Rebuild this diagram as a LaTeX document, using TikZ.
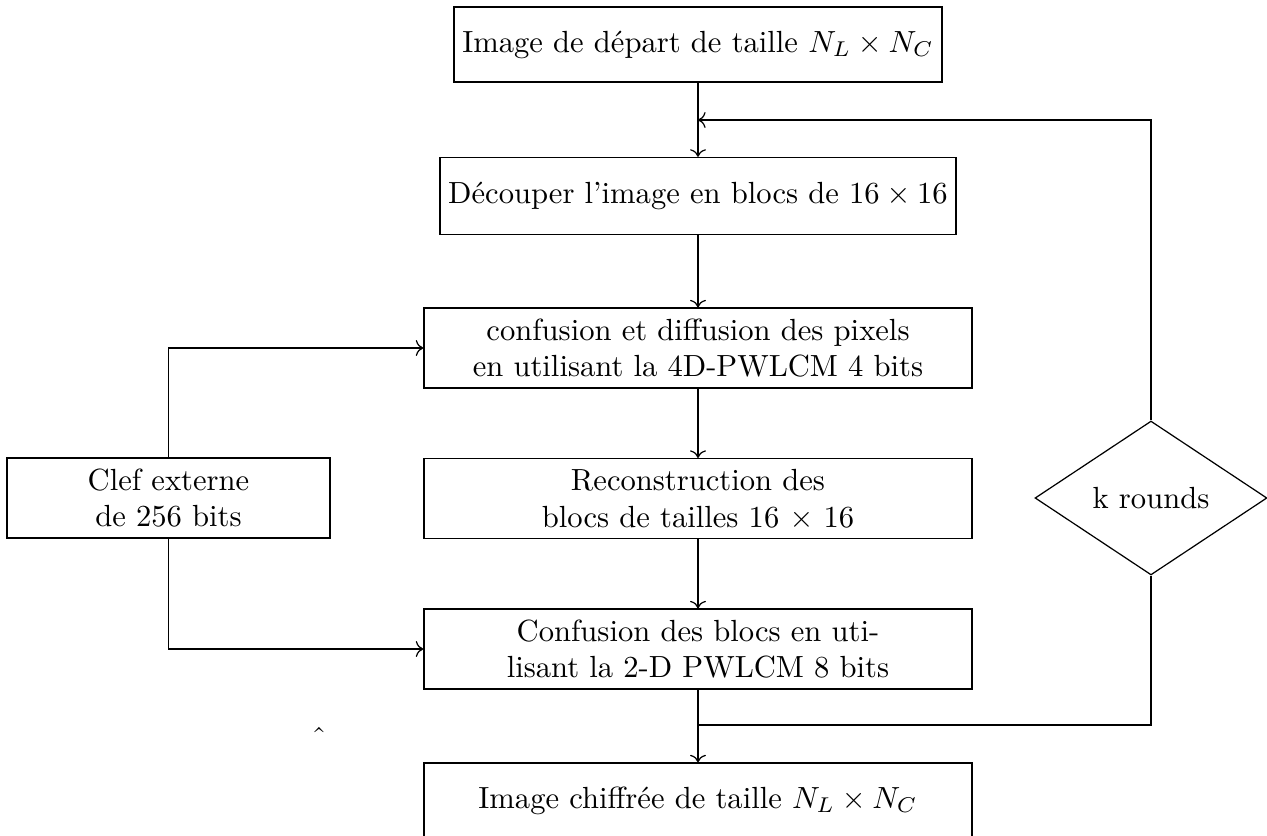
\documentclass[tikz,border=0pt]{standalone}
\usetikzlibrary{shapes.geometric,arrows.meta}
\newcommand{\smalltimes}{\mathbin{\hbox{\texttimes}}}
\begin{document}
\begin{tikzpicture}[x=0.3268pt,y=-0.3268pt,
  box/.style={draw, rectangle, align=center, inner sep=0pt, line width=0.4pt},
  widebox/.style={box, minimum width=179.1pt, minimum height=26.1pt},
  decision/.style={draw, diamond, aspect=1.5, inner sep=0pt, line width=0.4pt,
    minimum width=75.8pt, minimum height=50.3pt},
  link/.style={->, line width=0.4pt},
  joinline/.style={line width=0.4pt}]
\useasboundingbox (0,0) rectangle (1267,836);

% main column
\node[box, minimum width=159.5pt, minimum height=24.5pt] (start) at (698,44.5)
  {Image de départ de taille $N_L\smalltimes N_C$};
\node[box, minimum width=168.6pt, minimum height=25.2pt] (split) at (698,196)
  {Découper l'image en blocs de $16\smalltimes16$};
\node[widebox] (pix) at (698,348)
  {confusion et diffusion des pixels\\en utilisant la 4D-PWLCM 4 bits};
\node[widebox] (rebuild) at (698,498.5)
  {Reconstruction des\\blocs de tailles 16 \texttimes{} 16};
\node[widebox] (blk) at (698,649)
  {Confusion des blocs en uti-\\lisant la 2-D PWLCM 8 bits};
\node[box, minimum width=179.1pt, minimum height=24.5pt] (out) at (698,800.5)
  {Image chiffrée de taille $N_L\smalltimes N_C$};

% key and loop control
\node[box, minimum width=105.6pt, minimum height=26.1pt] (key) at (168.5,498)
  {Clef externe\\de 256 bits};
\node[decision] (rounds) at (1151,498) {k rounds};

\coordinate (loopin) at (698,120);
\coordinate (loopout) at (698,725);

% connectors
\draw[link] (start) -- (split);
\draw[link] (split) -- (pix);
\draw[link] (pix) -- (rebuild);
\draw[link] (rebuild) -- (blk);
\draw[link] (blk) -- (out);
\draw[link] (key.north) |- (pix.west);
\draw[link] (key.south) |- (blk.west);
\draw[link] (rounds.north) |- (loopin);
\draw[joinline, -{Bar[width=4.5pt]}] (rounds.south) |- (loopout);

\node[inner sep=0pt] (caret) at (319,738) {\symbol{"02C6}};
\end{tikzpicture}
\end{document}
